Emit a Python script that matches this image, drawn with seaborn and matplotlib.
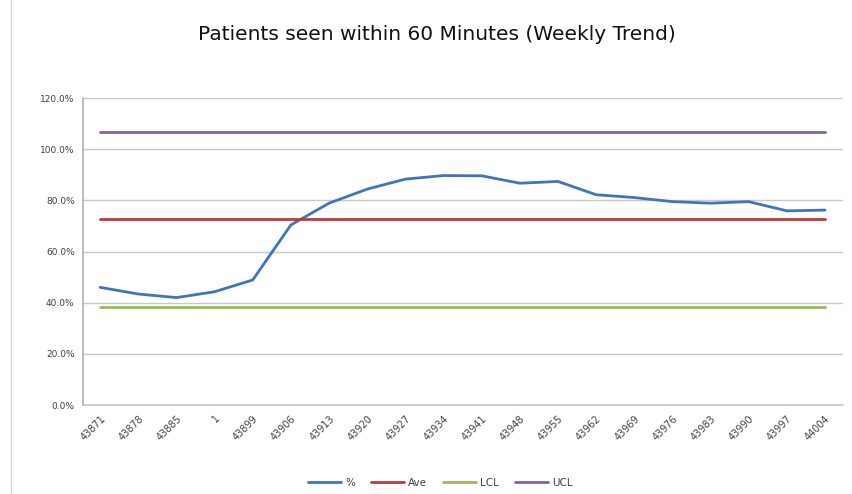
import pandas as pd
import matplotlib.pyplot as plt
import seaborn as sns
from matplotlib.lines import Line2D

# week labels (Excel date serials, as shown on the axis)
week_labels = ["43871", "43878", "43885", "1", "43899", "43906", "43913", "43920",
               "43927", "43934", "43941", "43948", "43955", "43962", "43969",
               "43976", "43983", "43990", "43997", "44004"]
pct_seen = [46.0, 43.4, 42.0, 44.3, 48.9, 70.4, 78.9, 84.4, 88.3, 89.7,
            89.6, 86.7, 87.4, 82.2, 81.1, 79.5, 78.9, 79.5, 75.9, 76.2]
ave_value = 72.7
lcl_value = 38.5
ucl_value = 106.9

series_names = ["%", "Ave", "LCL", "UCL"]
colors = ["#4174be", "#be3b36", "#9bbb59", "#8064a2"]


def build_frame():
    n = len(week_labels)
    rows = []
    cols = {"%": pct_seen, "Ave": [ave_value] * n,
            "LCL": [lcl_value] * n, "UCL": [ucl_value] * n}
    for name in series_names:
        for i, v in enumerate(cols[name]):
            rows.append({"week": i, "value": v, "series": name})
    return pd.DataFrame(rows)


def run_and_plot():
    sns.set_theme(style="white")
    plt.rcParams['font.family'] = ['DejaVu Sans']
    df = build_frame()

    fig = plt.figure(figsize=(8.52, 4.94), dpi=100)
    ax = fig.add_axes([0.0974, 0.180, 0.892, 0.6216])

    sns.lineplot(data=df, x="week", y="value", hue="series", hue_order=series_names,
                 palette=colors, linewidth=2.0, ax=ax, legend=False, sort=False)

    ax.set_ylim(0, 120)
    ax.set_yticks(range(0, 121, 20))
    ax.set_yticklabels([f"{v:.1f}%" for v in range(0, 121, 20)], fontsize=6.5, color="#404040")
    ax.set_xlim(-0.45, len(week_labels) - 0.53)
    ax.set_xticks(range(len(week_labels)))
    ax.set_xticklabels(week_labels, rotation=45, ha="right", rotation_mode="anchor",
                       fontsize=7, color="#404040")
    ax.tick_params(axis="both", length=0, pad=6)
    ax.set_xlabel("")
    ax.set_ylabel("")

    ax.grid(axis="y", color="#c8c8c8", linewidth=1)
    ax.axhline(0, color="#c8c8c8", linewidth=1.2, clip_on=False, zorder=0)
    ax.set_axisbelow(True)
    for side in ["top", "right", "bottom"]:
        ax.spines[side].set_visible(False)
    ax.spines["left"].set_color("#b0b0b0")
    ax.spines["left"].set_linewidth(1.2)

    fig.text(0.513, 0.93, "Patients seen within 60 Minutes (Weekly Trend)",
             ha="center", va="center", fontsize=14.5, fontweight="medium", color="#111111")

    handles = [Line2D([0], [0], color=c, lw=2) for c in colors]
    fig.legend(handles, series_names, loc="center", bbox_to_anchor=(0.517, 0.022),
               ncol=4, frameon=False, fontsize=7.5, handlelength=3.2, columnspacing=1.5,
               handletextpad=0.4, labelcolor="#404040")

    # spreadsheet cell border at the left edge
    fig.add_artist(Line2D([0.013, 0.013], [0, 1], color="#d8d8d8", lw=1))

    plt.savefig("out.png", dpi=100)


if __name__ == "__main__":
    run_and_plot()
